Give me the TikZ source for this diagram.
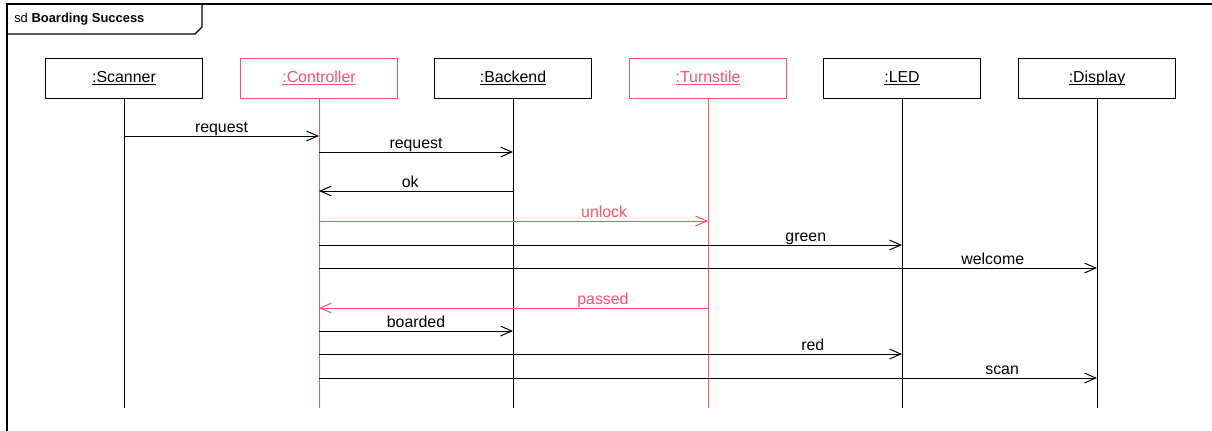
\documentclass[tikz,border=0pt]{standalone}
\usepackage{fontspec}
\setmainfont{Liberation Sans}
\usepackage{xcolor}
\usetikzlibrary{arrows.meta, positioning}
\definecolor{umlred}{RGB}{255,80,110}

\begin{document}
\begin{tikzpicture}[
  x=0.025cm, y=-0.025cm,
  >={Straight Barb[length=8pt,width=7pt]},
  obj/.style={draw, line width=0.7pt, minimum width=3.9cm, minimum height=1cm,
              inner sep=0pt, text height=1.6ex, text depth=0.4ex,
              font=\fontsize{11.3}{13}\selectfont},
  life/.style={line width=0.7pt},
  msg/.style={->, line width=0.7pt},
  lbl/.style={font=\fontsize{11.3}{13}\selectfont, anchor=base, inner sep=0pt, yshift=2.2pt}
]
  \useasboundingbox (0,0) rectangle (1212,430);
  \clip (0,0) rectangle (1212,430);

  % frame and tab
  \draw[line width=0.8pt] (7,450) -- (7,4) -- (1240,4);
  \draw[line width=0.8pt] (7,34) -- (195,34) -- (202,27) -- (202,4);
  \node[anchor=west, inner sep=0pt, font=\fontsize{9.2}{11}\selectfont] (title) at (14,19)
       {sd \textbf{Boarding Success}};

  % lifelines
  \foreach \name/\txt/\x/\col in {scanner/Scanner/124/black, controller/Controller/319/umlred,
                                 backend/Backend/513/black, turnstile/Turnstile/708/umlred,
                                 led/LED/902/black, display/Display/1097/black} {
    \node[obj, draw=\col, text=\col] (\name) at (\x,78) {\underline{\smash{:\txt}\vphantom{X}}};
    \draw[life, \col] (\name.south) -- (\name.south |- 0,408);
  }

  % messages
  \foreach \from/\to/\y/\txt/\p/\col in {
      scanner/controller/136/request/0.5/black,
      controller/backend/152/request/0.5/black,
      backend/controller/191/ok/0.53/black,
      controller/turnstile/221/unlock/0.733/umlred,
      controller/led/245/green/0.835/black,
      controller/display/268/welcome/0.866/black,
      turnstile/controller/308/passed/0.27/umlred,
      controller/backend/331/boarded/0.5/black,
      controller/led/354/red/0.847/black,
      controller/display/378/scan/0.878/black} {
    \draw[msg, \col] (\from.south |- 0,\y) -- (\to.south |- 0,\y)
         node[lbl, text=\col, pos=\p] {\txt};
  }
\end{tikzpicture}
\end{document}
